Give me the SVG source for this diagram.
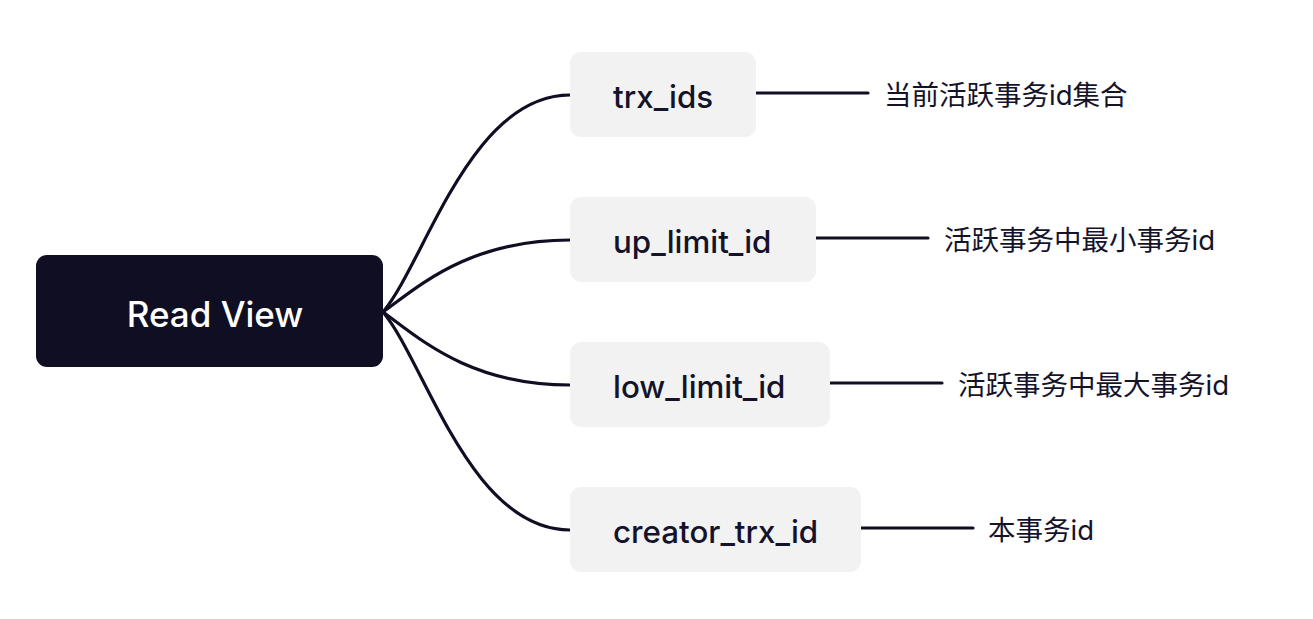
<svg xmlns="http://www.w3.org/2000/svg" width="1313" height="619" viewBox="0 0 1313 619">
<style>
.root{fill:#100e23}
.rtext{fill:#ffffff;font-family:Inter,"Liberation Sans",sans-serif;font-size:35px;font-weight:500}
.box{fill:#f2f2f3}
.ntext{fill:#15132a;font-family:Inter,"Liberation Sans",sans-serif;font-size:31.3px;font-weight:500}
.ltext{fill:#15132a;font-family:Inter,"Noto Sans CJK SC",sans-serif;font-size:27.5px}
.conn{fill:none;stroke:#100e23;stroke-width:3.2;stroke-linecap:round}
</style>
<rect width="1313" height="619" fill="#ffffff"/>
<g id="connectors">
<path class="conn" d="M383,312 C425,262 470,95 570,95"/>
<path class="conn" d="M383,312 C420,285 470,240 570,240"/>
<path class="conn" d="M383,312 C420,339 470,385 570,385"/>
<path class="conn" d="M383,312 C425,362 470,530 570,530"/>
<path class="conn" d="M756,93 H868"/>
<path class="conn" d="M816,238 H928"/>
<path class="conn" d="M830,383 H942"/>
<path class="conn" d="M861,528 H973"/>
</g>
<g id="read-view">
<rect class="root" x="36" y="255" width="347" height="112" rx="11"/>
<text class="rtext" x="215" y="314" text-anchor="middle" dominant-baseline="central">Read View</text>
</g>
<g id="trx_ids">
<rect class="box" x="570" y="52" width="186" height="85" rx="11"/>
<text class="ntext" x="613" y="97" dominant-baseline="central">trx_ids</text>
</g>
<g id="up_limit_id">
<rect class="box" x="570" y="197" width="246" height="85" rx="11"/>
<text class="ntext" x="613" y="242" dominant-baseline="central">up_limit_id</text>
</g>
<g id="low_limit_id">
<rect class="box" x="570" y="342" width="260" height="85" rx="11"/>
<text class="ntext" x="613" y="387" dominant-baseline="central">low_limit_id</text>
</g>
<g id="creator_trx_id">
<rect class="box" x="570" y="487" width="291" height="85" rx="11"/>
<text class="ntext" x="613" y="532" dominant-baseline="central">creator_trx_id</text>
</g>
<g id="label-trx_ids">
<text class="ltext" x="884" y="95" dominant-baseline="central">当前活跃事务id集合</text>
</g>
<g id="label-up_limit_id">
<text class="ltext" x="944" y="240" dominant-baseline="central">活跃事务中最小事务id</text>
</g>
<g id="label-low_limit_id">
<text class="ltext" x="958" y="385" dominant-baseline="central">活跃事务中最大事务id</text>
</g>
<g id="label-creator_trx_id">
<text class="ltext" x="988" y="530" dominant-baseline="central">本事务id</text>
</g>
</svg>
